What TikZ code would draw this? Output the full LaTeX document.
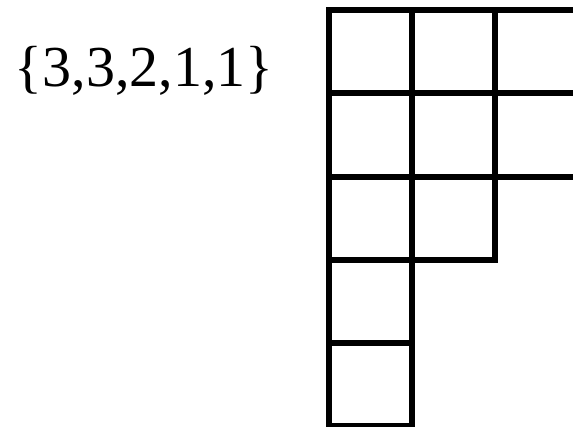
\documentclass[tikz,border=0pt]{standalone}
\usepackage{fontspec}
\setmainfont{Liberation Serif}
\begin{document}
\begin{tikzpicture}[x=1pt, y=-1pt, line width=6pt]
    \useasboundingbox (0,0) rectangle (573,427);
    \clip (0,0) rectangle (573,427);
    \node[anchor=base, font=\fontsize{58}{70}\selectfont] (shape) at (144,87) {\{3,3,2,1,1\}};
    \foreach \r/\n in {1/3,2/3,3/2,4/1,5/1}
        \foreach \c in {1,...,\n}
            \draw ({329+83*(\c-1)},{10+83.3*(\r-1)}) rectangle ++(83,83.3);
\end{tikzpicture}
\end{document}
